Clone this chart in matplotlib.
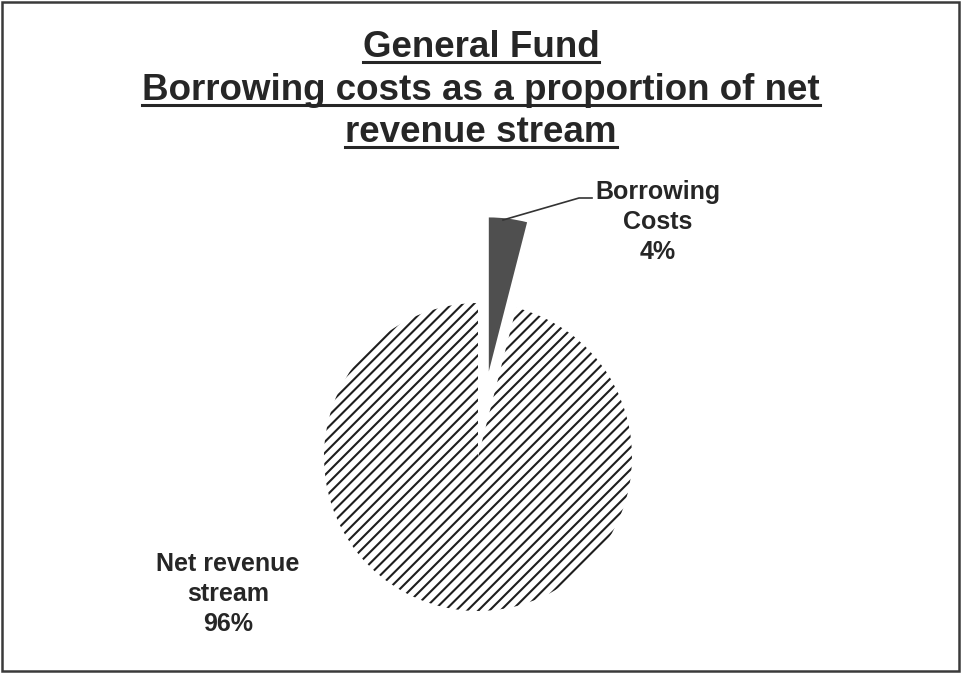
import matplotlib
matplotlib.use("Agg")
import matplotlib.pyplot as plt
from matplotlib.patches import Rectangle
from matplotlib.lines import Line2D

plt.rcParams['font.family'] = ['Liberation Sans', 'DejaVu Sans']
plt.rcParams['hatch.linewidth'] = 1.5

title_lines = ["General Fund",
               "Borrowing costs as a proportion of net",
               "revenue stream"]
labels = ["Borrowing\nCosts", "Net revenue\nstream"]
shares = [4, 96]          # percent
explode = [0.56, 0.0]

W, H = 962, 675
fig = plt.figure(figsize=(W / 100, H / 100), dpi=100)

# pie centre and radius in pixels, limits in data units
cx, cy, R = 478, 457, 154
lim = 1.7
side = 2 * lim * R
ax = fig.add_axes([(cx - side / 2) / W, (H - cy - side / 2) / H, side / W, side / H])

wedges, _ = ax.pie(shares, startangle=90, counterclock=False, explode=explode,
                   colors=["#4f4f4f", "white"], wedgeprops=dict(linewidth=0))
wedges[1].set_edgecolor("#1e1e1e")
wedges[1].set_linewidth(0)
wedges[1].set_hatch("///")
ax.set_xlim(-lim, lim)
ax.set_ylim(-lim, lim)
ax.set_aspect("equal")
ax.axis("off")

def px(x, y):
    return (x - cx) / R, (cy - y) / R

# leader line from the small slice to its label
lx, ly = zip(px(503, 220), px(579, 198), px(592, 198))
ax.plot(lx, ly, color="#333333", lw=1.2, clip_on=False)

txt_kw = dict(fontsize=18, fontweight="bold", color="#262626",
              ha="center", va="center", linespacing=1.32)
ax.text(*px(658, 222), f"{labels[0]}\n{shares[0]}%", **txt_kw)
ax.text(*px(228, 594), f"{labels[1]}\n{shares[1]}%", **txt_kw)

# underlined title, one text per line
baselines = [57, 100, 142]
fig.canvas.draw()
renderer = fig.canvas.get_renderer()
for line, yb in zip(title_lines, baselines):
    t = fig.text(481 / W, 1 - yb / H, line, fontsize=26.5, fontweight="bold",
                 color="#262626", ha="center", va="baseline")
    bb = t.get_window_extent(renderer)
    yu = 1 - (yb + 5) / H
    fig.add_artist(Line2D([bb.x0 / W, bb.x1 / W], [yu, yu], color="#262626",
                          lw=2.2, transform=fig.transFigure))

# frame round the whole chart
fig.add_artist(Rectangle((2 / W, 4 / H), (W - 5) / W, (H - 6) / H,
                         transform=fig.transFigure, fill=False,
                         edgecolor="#3a3a3a", lw=1.8))

fig.savefig("out.png", dpi=100)
